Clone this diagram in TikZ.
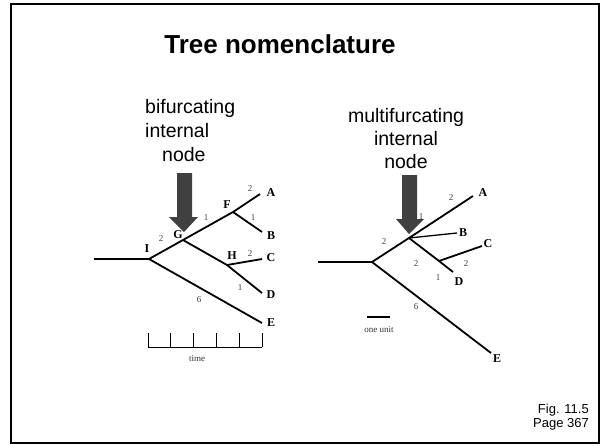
\documentclass[tikz,border=0pt]{standalone}
\usepackage{fontspec}
\setmainfont{Liberation Sans}
\newfontfamily\treefont{Liberation Serif}
\definecolor{arrowgray}{HTML}{404040}
\begin{document}
\begin{tikzpicture}[x=1pt,y=-1pt,
  branch/.style={line width=1.8pt},
  tick/.style={line width=0.8pt},
  leaf/.style={inner sep=0pt,font=\treefont\bfseries\fontsize{12}{12}\selectfont},
  blen/.style={inner sep=0pt,text=black!75,font=\treefont\fontsize{9}{9}\selectfont},
  caption/.style={inner sep=0pt,anchor=base,font=\fontsize{19.5}{19.5}\selectfont},
  bigarrow/.style={fill=arrowgray}]
\useasboundingbox (0,0) rectangle (602,445);
% slide frame
\draw[line width=2.4pt] (11,4) rectangle (599,443);
\node[inner sep=0pt,anchor=base,font=\bfseries\fontsize{26}{26}\selectfont] (title) at (280,53) {Tree nomenclature};

% ---------- bifurcating tree ----------
\node[caption,anchor=base west] (bl1) at (145,113) {bifurcating};
\node[caption,anchor=base west] (bl2) at (145,137) {internal};
\node[caption,anchor=base west] (bl3) at (162,161) {node};

\coordinate (r1) at (94,259);
\coordinate (I) at (149,259);
\coordinate (G) at (183,240);
\coordinate (F) at (233,212);
\coordinate (A) at (260,194);
\coordinate (B) at (262,232);
\coordinate (H) at (227,265);
\coordinate (C) at (262,259);
\coordinate (D) at (262,293);
\coordinate (E) at (262,323);

\draw[branch] (r1) -- (I) -- (G) -- (F) -- (A);
\draw[branch] (F) -- (B);
\draw[branch] (G) -- (H) -- (C);
\draw[branch] (H) -- (D);
\draw[branch] (I) -- (E);

\node[leaf] (lA) at (271,193) {A};
\node[leaf] (lB) at (271,236) {B};
\node[leaf] (lC) at (271,258) {C};
\node[leaf] (lD) at (271,295) {D};
\node[leaf] (lE) at (271,323) {E};
\node[leaf] (lF) at (227,205) {F};
\node[leaf] (lG) at (178,235) {G};
\node[leaf] (lH) at (232,256) {H};
\node[leaf] (lI) at (147,249) {I};

\node[blen] (bA) at (250,189) {2};
\node[blen] (bB) at (253,218) {1};
\node[blen] (bF) at (206,218) {1};
\node[blen] (bG) at (161,239) {2};
\node[blen] (bC) at (250,254) {2};
\node[blen] (bD) at (240,288) {1};
\node[blen] (bE) at (199,300) {6};

% time axis
\coordinate (t0) at (148,347);
\coordinate (t5) at (262,347);
\draw[tick] (t0) -- (t5);
\foreach \tx in {148,170.8,193.6,216.4,239.2,262}
  \draw[tick] (\tx,347) -- (\tx,333);
\node[blen,text=black!80] (time) at (197,359) {time};

\fill[bigarrow] (177,173) -- (192,173) -- (192,217) -- (198,217) -- (184,232)
  -- (169,217) -- (177,217) -- cycle;

% ---------- multifurcating tree ----------
\node[caption] (ml1) at (406,122) {multifurcating};
\node[caption] (ml2) at (406,145) {internal};
\node[caption] (ml3) at (406,168) {node};

\coordinate (r2) at (318,262);
\coordinate (I2) at (372,262);
\coordinate (G2) at (409,238);
\coordinate (A2) at (473,196);
\coordinate (B2) at (457,233);
\coordinate (H2) at (439,261);
\coordinate (D2) at (453,272);
\coordinate (C2) at (482,246);
\coordinate (E2) at (491,353);

\draw[branch] (r2) -- (I2) -- (G2) -- (A2);
\draw[branch,line width=1.3pt] (G2) -- (B2);
\draw[branch] (G2) -- (H2) -- (D2);
\draw[branch] (H2) -- (C2);
\draw[branch] (I2) -- (E2);

\node[leaf] (mA) at (483,193) {A};
\node[leaf] (mB) at (463,233) {B};
\node[leaf] (mC) at (488,244) {C};
\node[leaf] (mD) at (459,282) {D};
\node[leaf] (mE) at (497,359) {E};

\node[blen] (nA) at (451,198) {2};
\node[blen] (nB) at (421,217) {1};
\node[blen] (nG) at (384,242) {2};
\node[blen] (nH) at (416,264) {2};
\node[blen] (nC) at (466,264) {2};
\node[blen] (nD) at (438,278) {1};
\node[blen] (nE) at (416,307) {6};

% scale bar
\coordinate (u0) at (367,317);
\coordinate (u1) at (390,317);
\draw[branch] (u0) -- (u1);
\node[blen,text=black!80] (unit) at (379,330) {one unit};

\fill[bigarrow] (402,175) -- (417,175) -- (417,219) -- (424,219) -- (409,234)
  -- (396,219) -- (402,219) -- cycle;

% figure reference
\node[inner sep=0pt,anchor=base east,font=\fontsize{13}{13}\selectfont] (fig) at (589,413) {Fig. 11.5};
\node[inner sep=0pt,anchor=base east,font=\fontsize{13}{13}\selectfont] (page) at (589,427) {Page 367};
\end{tikzpicture}
\end{document}
